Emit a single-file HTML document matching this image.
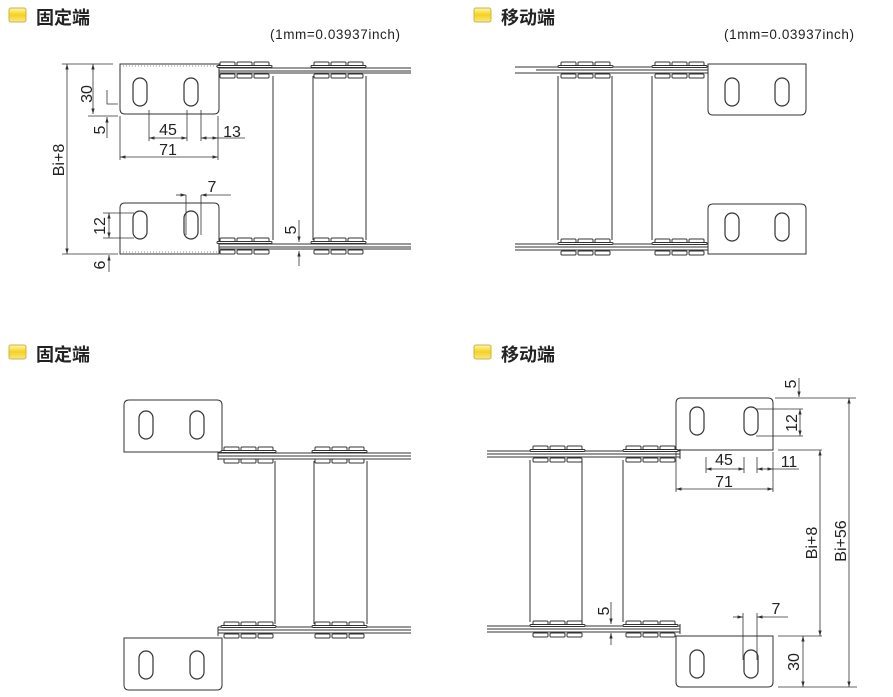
<!DOCTYPE html>
<html><head><meta charset="utf-8"><style>
html,body{margin:0;padding:0;background:#fff;}
svg{display:block;font-family:"Liberation Sans",Arial,sans-serif;}
.t{font-family:"Liberation Sans","Noto Sans CJK SC",sans-serif;font-size:18px;fill:#222;font-weight:bold;}
.d{font-size:16px;fill:#222;}
</style></head><body>
<svg width="893" height="697" viewBox="0 0 893 697" xmlns="http://www.w3.org/2000/svg">
<defs>
<linearGradient id="yg" x1="0" y1="0" x2="0" y2="1"><stop offset="0" stop-color="#fff6b0"/><stop offset="0.5" stop-color="#f5d21a"/><stop offset="1" stop-color="#f8e890"/></linearGradient>
<g id="pg" fill="#fff" stroke="#333" stroke-width="1">
<rect x="3" y="-8" width="15" height="4" rx="1"/><rect x="20" y="-8" width="15" height="4" rx="1"/><rect x="37" y="-8" width="15" height="4" rx="1"/>
<rect x="0" y="-4.5" width="55" height="2" rx="1"/>
<rect x="3" y="4" width="15" height="4" rx="1"/><rect x="20" y="4" width="15" height="4" rx="1"/><rect x="37" y="4" width="15" height="4" rx="1"/>
</g>
<g id="slot" fill="none" stroke="#333" stroke-width="1.2"><rect x="0" y="0" width="14" height="28" rx="7"/></g>
<marker id="a" viewBox="0 0 10 10" refX="10" refY="5" markerWidth="7" markerHeight="7" orient="auto-start-reverse"><path d="M0,2 L10,5 L0,8 z" fill="#333"/></marker>
</defs>

<rect x="9" y="8" width="17" height="14" rx="2" fill="url(#yg)" stroke="#c9b44a"/>
<text x="36" y="24" class="t">固定端</text>
<rect x="474" y="8" width="17" height="14" rx="2" fill="url(#yg)" stroke="#c9b44a"/>
<text x="501" y="24" class="t">移动端</text>
<rect x="9" y="345" width="17" height="14" rx="2" fill="url(#yg)" stroke="#c9b44a"/>
<text x="36" y="361" class="t">固定端</text>
<rect x="474" y="345" width="17" height="14" rx="2" fill="url(#yg)" stroke="#c9b44a"/>
<text x="501" y="361" class="t">移动端</text>
<text x="270" y="39" font-size="13.5" fill="#222" textLength="130">(1mm=0.03937inch)</text>
<text x="724" y="39" font-size="13.5" fill="#222" textLength="130">(1mm=0.03937inch)</text>

<g stroke="#333" stroke-width="1" fill="none">
<path d="M120,64 H219 V109 Q219,114 214,114 H125 Q120,114 120,109 Z"/>
<path d="M120,66 H219" stroke-dasharray="1,2" stroke="#888"/>
<path d="M125,203 H214 Q219,203 219,208 V254 H120 V208 Q120,203 125,203 Z"/>
<path d="M120,252 H219" stroke-dasharray="1,2" stroke="#888"/>
<line x1="219" y1="68" x2="411" y2="68"/><line x1="219" y1="71" x2="411" y2="71"/><line x1="219" y1="73" x2="411" y2="73"/>
<line x1="219" y1="244" x2="411" y2="244"/><line x1="219" y1="247" x2="411" y2="247"/><line x1="219" y1="249" x2="411" y2="249"/>
<line x1="273" y1="76" x2="273" y2="240"/><line x1="313" y1="76" x2="313" y2="240"/><line x1="366" y1="76" x2="366" y2="240"/>
</g>
<use href="#pg" x="217" y="70"/><use href="#pg" x="311" y="70"/>
<use href="#pg" x="217" y="246"/><use href="#pg" x="311" y="246"/>
<use href="#slot" x="133" y="78"/><use href="#slot" x="184" y="78"/>
<use href="#slot" x="133" y="211"/><use href="#slot" x="184" y="211"/>

<g stroke="#333" stroke-width="0.8" fill="none">
<line x1="62" y1="64" x2="113" y2="64"/><line x1="62" y1="254" x2="118" y2="254"/>
<line x1="67" y1="64" x2="67" y2="254" marker-start="url(#a)" marker-end="url(#a)"/>
<line x1="93" y1="64" x2="93" y2="114" marker-start="url(#a)" marker-end="url(#a)"/>
<line x1="88" y1="116" x2="118" y2="116"/>
<path d="M107,90 V104 H118"/>
<line x1="107" y1="138" x2="107" y2="117" marker-end="url(#a)"/>
<line x1="149" y1="110" x2="149" y2="141"/><line x1="187" y1="110" x2="187" y2="141"/>
<line x1="149" y1="138" x2="187" y2="138" marker-start="url(#a)" marker-end="url(#a)"/>
<line x1="201" y1="110" x2="201" y2="141"/><line x1="120" y1="116" x2="120" y2="160"/><line x1="218" y1="116" x2="218" y2="160"/>
<line x1="201" y1="138" x2="218" y2="138" marker-start="url(#a)" marker-end="url(#a)"/><line x1="218" y1="138" x2="245" y2="138"/>
<line x1="120" y1="157" x2="218" y2="157" marker-start="url(#a)" marker-end="url(#a)"/>
<line x1="186" y1="195" x2="186" y2="235"/><line x1="201" y1="195" x2="201" y2="235"/>
<line x1="176" y1="195" x2="186" y2="195" marker-end="url(#a)"/><line x1="211" y1="195" x2="201" y2="195" marker-end="url(#a)"/><line x1="211" y1="195" x2="231" y2="195"/>
<line x1="103" y1="213" x2="134" y2="213"/><line x1="103" y1="238" x2="134" y2="238"/>
<line x1="109" y1="213" x2="109" y2="238" marker-start="url(#a)" marker-end="url(#a)"/>
<line x1="109" y1="272" x2="109" y2="255" marker-end="url(#a)"/>
<line x1="299" y1="220" x2="299" y2="242" marker-end="url(#a)"/><line x1="299" y1="266" x2="299" y2="251" marker-end="url(#a)"/>
</g>
<g class="d">
<text transform="translate(64,160) rotate(-90)" text-anchor="middle">Bi+8</text>
<text transform="translate(92,94) rotate(-90)" text-anchor="middle">30</text>
<text transform="translate(105,130) rotate(-90)" text-anchor="middle">5</text>
<text x="168" y="135" text-anchor="middle">45</text>
<text x="232" y="137" text-anchor="middle">13</text>
<text x="168" y="155" text-anchor="middle">71</text>
<text x="212" y="192" text-anchor="middle">7</text>
<text transform="translate(105,226) rotate(-90)" text-anchor="middle">12</text>
<text transform="translate(105,265) rotate(-90)" text-anchor="middle">6</text>
<text transform="translate(296,230) rotate(-90)" text-anchor="middle">5</text>
</g>

<g stroke="#333" stroke-width="1" fill="none">
<path d="M708,64 H806 V109 Q806,115 801,115 H713 Q708,115 708,110 Z"/>
<path d="M713,204 H801 Q806,204 806,209 V254 H708 V209 Q708,204 713,204 Z"/>
<line x1="515" y1="67" x2="708" y2="67"/><line x1="536" y1="70" x2="708" y2="70"/><line x1="515" y1="73" x2="708" y2="73"/>
<line x1="515" y1="244" x2="708" y2="244"/><line x1="515" y1="247" x2="708" y2="247"/><line x1="515" y1="250" x2="708" y2="250"/>
<line x1="558" y1="76" x2="558" y2="240"/><line x1="612" y1="76" x2="612" y2="240"/><line x1="652" y1="76" x2="652" y2="240"/>
</g>
<use href="#pg" x="558" y="70"/><use href="#pg" x="652" y="70"/>
<use href="#pg" x="558" y="247"/><use href="#pg" x="652" y="247"/>
<use href="#slot" x="725" y="78"/><use href="#slot" x="775" y="78"/>
<use href="#slot" x="725" y="213"/><use href="#slot" x="775" y="213"/>

<g stroke="#333" stroke-width="1" fill="none">
<path d="M129,400 H217 Q222,400 222,405 V452 H124 V405 Q124,400 129,400 Z"/>
<path d="M124,638 H222 V685 Q222,690 217,690 H129 Q124,690 124,685 Z"/>
<path d="M218,452 V460"/><path d="M218,627 V636"/>
<line x1="218" y1="453" x2="411" y2="453"/><line x1="218" y1="456" x2="411" y2="456"/><line x1="218" y1="459" x2="411" y2="459"/>
<line x1="218" y1="627" x2="411" y2="627"/><line x1="218" y1="630" x2="411" y2="630"/><line x1="218" y1="633" x2="411" y2="633"/>
<line x1="275" y1="461" x2="275" y2="624"/><line x1="314" y1="461" x2="314" y2="624"/><line x1="367" y1="461" x2="367" y2="624"/>
</g>
<use href="#pg" x="221" y="455"/><use href="#pg" x="312" y="455"/>
<use href="#pg" x="221" y="630"/><use href="#pg" x="312" y="630"/>
<use href="#slot" x="139" y="411"/><use href="#slot" x="190" y="411"/>
<use href="#slot" x="139" y="651"/><use href="#slot" x="190" y="651"/>

<g stroke="#333" stroke-width="1" fill="none">
<path d="M681,398 H768 Q773,398 773,403 V450 H676 V403 Q676,398 681,398 Z"/>
<path d="M676,636 H773 V682 Q773,687 768,687 H681 Q676,687 676,682 Z"/>
<line x1="487" y1="451" x2="680" y2="451"/><line x1="487" y1="454" x2="680" y2="454"/><line x1="487" y1="457" x2="680" y2="457"/>
<line x1="487" y1="626" x2="680" y2="626"/><line x1="487" y1="629" x2="680" y2="629"/><line x1="487" y1="632" x2="680" y2="632"/>
<path d="M680,449 V459"/><path d="M680,624 V634"/>
<line x1="530" y1="460" x2="530" y2="622"/><line x1="582" y1="460" x2="582" y2="622"/><line x1="623" y1="460" x2="623" y2="622"/>
</g>
<use href="#pg" x="530" y="454"/><use href="#pg" x="623" y="454"/>
<use href="#pg" x="530" y="629"/><use href="#pg" x="623" y="629"/>
<use href="#slot" x="690" y="407"/><use href="#slot" x="744" y="407"/>
<use href="#slot" x="690" y="650"/><use href="#slot" x="744" y="650"/>

<g stroke="#333" stroke-width="0.8" fill="none">
<line x1="799" y1="378" x2="799" y2="397" marker-end="url(#a)"/>
<line x1="775" y1="398" x2="856" y2="398"/>
<line x1="756" y1="409" x2="803" y2="409"/><line x1="756" y1="436" x2="803" y2="436"/>
<line x1="800" y1="409" x2="800" y2="436" marker-start="url(#a)" marker-end="url(#a)"/>
<line x1="778" y1="450" x2="822" y2="450"/>
<line x1="706" y1="457" x2="706" y2="473"/><line x1="744" y1="457" x2="744" y2="473"/>
<line x1="706" y1="469" x2="744" y2="469" marker-start="url(#a)" marker-end="url(#a)"/>
<line x1="757" y1="457" x2="757" y2="473"/><line x1="773" y1="452" x2="773" y2="492"/><line x1="676" y1="452" x2="676" y2="492"/>
<line x1="757" y1="469" x2="773" y2="469" marker-start="url(#a)" marker-end="url(#a)"/><line x1="773" y1="469" x2="799" y2="469"/>
<line x1="676" y1="489" x2="773" y2="489" marker-start="url(#a)" marker-end="url(#a)"/>
<line x1="820" y1="450" x2="820" y2="636" marker-start="url(#a)" marker-end="url(#a)"/>
<line x1="849" y1="398" x2="849" y2="687" marker-start="url(#a)" marker-end="url(#a)"/>
<line x1="743" y1="613" x2="743" y2="660"/><line x1="757" y1="613" x2="757" y2="660"/>
<line x1="733" y1="617" x2="743" y2="617" marker-end="url(#a)"/><line x1="767" y1="617" x2="757" y2="617" marker-end="url(#a)"/><line x1="767" y1="617" x2="788" y2="617"/>
<line x1="778" y1="636" x2="822" y2="636"/><line x1="778" y1="687" x2="857" y2="687"/>
<line x1="803" y1="636" x2="803" y2="687" marker-start="url(#a)" marker-end="url(#a)"/>
<line x1="611" y1="602" x2="611" y2="624" marker-end="url(#a)"/><line x1="611" y1="645" x2="611" y2="633" marker-end="url(#a)"/>
</g>
<g class="d">
<text transform="translate(796,384) rotate(-90)" text-anchor="middle">5</text>
<text transform="translate(797,423) rotate(-90)" text-anchor="middle">12</text>
<text x="724" y="465" text-anchor="middle">45</text>
<text x="789" y="467" text-anchor="middle">11</text>
<text x="724" y="487" text-anchor="middle">71</text>
<text transform="translate(817,543) rotate(-90)" text-anchor="middle">Bi+8</text>
<text transform="translate(846,541) rotate(-90)" text-anchor="middle">Bi+56</text>
<text x="776" y="614" text-anchor="middle">7</text>
<text transform="translate(799,662) rotate(-90)" text-anchor="middle">30</text>
<text transform="translate(609,611) rotate(-90)" text-anchor="middle">5</text>
</g>
</svg>
</body></html>
